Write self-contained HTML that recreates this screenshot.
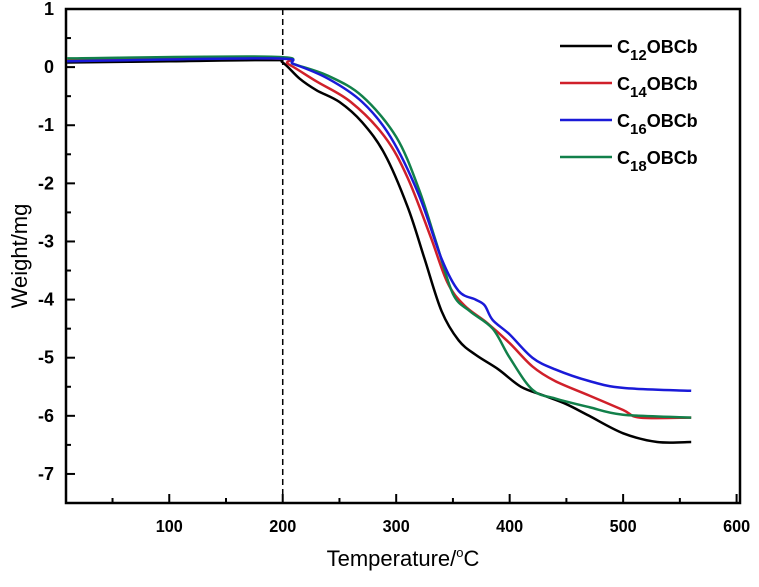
<!DOCTYPE html>
<html><head><meta charset="utf-8"><style>
body{margin:0;background:#fff;}
svg text{font-family:"Liberation Sans",Arial,sans-serif;}
.b{font-weight:bold;}
.n{font-weight:normal;}
</style></head><body>
<svg id="chart" width="759" height="582">
<g id="plot"></g>
</svg>
<script>
const xTicks=[100,200,300,400,500,600];
const yTicks=[1,0,-1,-2,-3,-4,-5,-6,-7];
const seriesNames=["C12OBCb","C14OBCb","C16OBCb","C18OBCb"];
const seriesSubs=["12","14","16","18"];
const seriesColors=["#000000","#d0202a","#1a1ad8","#12804a"];
const blackX=[10,100,190,200,215,230,250,270,290,310,325,340,355,370,390,410,430,450,470,500,530,560];
const blackY=[0.08,0.1,0.12,0.08,-0.2,-0.4,-0.6,-0.95,-1.5,-2.4,-3.3,-4.2,-4.7,-4.95,-5.2,-5.5,-5.65,-5.8,-6.0,-6.3,-6.45,-6.45];
const redX=[10,190,205,230,260,290,310,330,345,360,380,400,420,440,470,500,515,560];
const redY=[0.12,0.15,0.05,-0.25,-0.6,-1.2,-1.9,-2.9,-3.7,-4.1,-4.4,-4.75,-5.15,-5.4,-5.65,-5.9,-6.03,-6.03];
const blueX=[10,190,210,240,270,295,320,340,355,370,378,385,400,420,440,470,500,560];
const blueY=[0.1,0.15,0.05,-0.2,-0.6,-1.2,-2.2,-3.3,-3.85,-4.0,-4.1,-4.35,-4.6,-5.0,-5.2,-5.4,-5.52,-5.57];
const greenX=[10,190,210,240,270,300,320,335,350,365,385,400,420,440,470,500,560];
const greenY=[0.15,0.18,0.05,-0.15,-0.5,-1.2,-2.1,-3.0,-3.9,-4.2,-4.5,-5.0,-5.55,-5.7,-5.85,-5.98,-6.03];
const markerX=200;

const L=66,R=740,T=9,B=503,xmin=9,xmax=603,ymin=-7.5,ymax=1;
const sx=v=>L+(v-xmin)/(xmax-xmin)*(R-L);
const sy=v=>T+(ymax-v)/(ymax-ymin)*(B-T);
const NS="http://www.w3.org/2000/svg";
const g=document.getElementById('plot');
function mk(t,a,p){const e=document.createElementNS(NS,t);for(const k in a)e.setAttribute(k,a[k]);(p||g).appendChild(e);return e;}

const frame=mk('rect',{x:L,y:T,width:R-L,height:B-T,fill:'none',stroke:'#000','stroke-width':2.5});



xTicks.forEach(v=>{
  const t=mk('line',{x1:sx(v),x2:sx(v),y1:B,y2:B-9,stroke:'#000','stroke-width':2});
  
  
  const m=mk('line',{x1:sx(v-50),x2:sx(v-50),y1:B,y2:B-5,stroke:'#000','stroke-width':2});
  
  
  const l=mk('text',{x:sx(v),y:B+29,'text-anchor':'middle','font-size':18,class:'b',transform:'translate('+sx(v)+' 0) scale(0.9 1) translate('+(-sx(v))+' 0)'});
  l.textContent=v;
  
  
});
yTicks.forEach(v=>{
  const t=mk('line',{x1:L,x2:L+9,y1:sy(v),y2:sy(v),stroke:'#000','stroke-width':2});
  
  
  if(v>ymin+0.5){const m=mk('line',{x1:L,x2:L+5,y1:sy(v-0.5),y2:sy(v-0.5),stroke:'#000','stroke-width':2});
  
  }
  const l=mk('text',{x:L-12,y:sy(v)+6,'text-anchor':'end','font-size':18,class:'b'});
  l.textContent=v;
  
  
});
const dl=mk('line',{x1:sx(markerX),x2:sx(markerX),y1:T,y2:B,stroke:'#000','stroke-width':1.5,'stroke-dasharray':'6,4'});



function smooth(px,py){
  let d='M'+px[0].toFixed(1)+','+py[0].toFixed(1);
  for(let j=0;j<px.length-1;j++){
    const p0=j?j-1:j,p3=j+2<px.length?j+2:j+1;
    const c1x=px[j]+(px[j+1]-px[p0])/6,c1y=py[j]+(py[j+1]-py[p0])/6;
    const c2x=px[j+1]-(px[p3]-px[j])/6,c2y=py[j+1]-(py[p3]-py[j])/6;
    d+=' C'+c1x.toFixed(1)+','+c1y.toFixed(1)+' '+c2x.toFixed(1)+','+c2y.toFixed(1)+' '+px[j+1].toFixed(1)+','+py[j+1].toFixed(1);
  }
  return d;
}
const xs=[blackX,redX,blueX,greenX],ys=[blackY,redY,blueY,greenY];
[0,1,3,2].forEach(i=>{
  const d=smooth(xs[i].map(sx),ys[i].map(sy));
  const p=mk('path',{d:d,fill:'none',stroke:seriesColors[i],'stroke-width':2.5,'stroke-linejoin':'round'});
  
  
});
seriesNames.forEach((n,i)=>{
  const y=46+i*37;
  const ln=mk('line',{x1:560,x2:612,y1:y,y2:y,stroke:seriesColors[i],'stroke-width':2.5});
  
  
  const t=mk('text',{x:617,y:y+7,'font-size':18,class:'b'});
  
  
  t.innerHTML='C<tspan dy="7" font-size="15">'+seriesSubs[i]+'</tspan><tspan dy="-7">OBCb</tspan>';
});
const xt=mk('text',{x:(L+R)/2,y:566,'text-anchor':'middle','font-size':22,class:'n'});
xt.innerHTML='Temperature/<tspan dy="-9" font-size="13">o</tspan><tspan dy="9">C</tspan>';


const yt=mk('text',{x:27,y:(T+B)/2,'text-anchor':'middle','font-size':22,class:'n',transform:'rotate(-90 27 '+((T+B)/2)+')'});
yt.textContent='Weight/mg';


</script>
</body></html>
